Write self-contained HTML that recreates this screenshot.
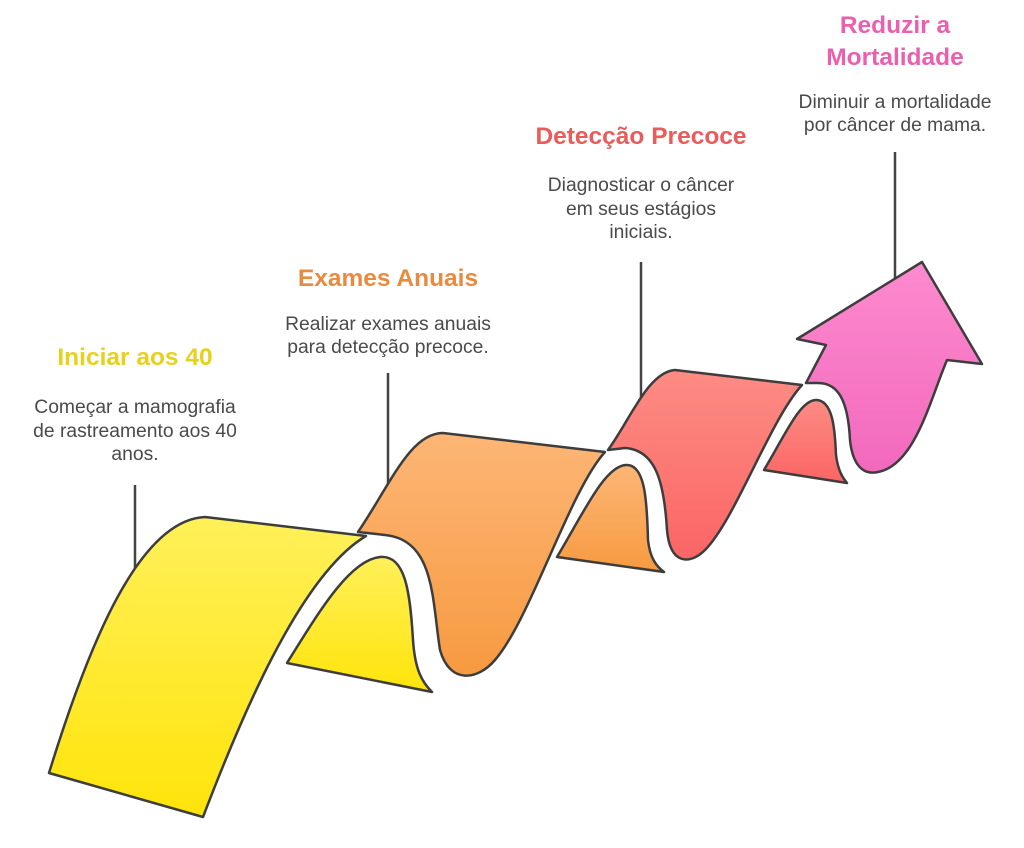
<!DOCTYPE html>
<html><head><meta charset="utf-8"><style>
html,body{margin:0;padding:0;background:#fff;}
svg{display:block;}
.t{font-family:"Liberation Sans",sans-serif;font-weight:bold;font-size:24.5px;text-anchor:middle;}
.b{font-family:"Liberation Sans",sans-serif;font-size:19.3px;fill:#4a4a4a;text-anchor:middle;}
.s{stroke:#3d3d3d;stroke-width:2.5;stroke-linejoin:round;}
</style></head><body>
<svg width="1024" height="848" viewBox="0 0 1024 848" xmlns="http://www.w3.org/2000/svg">
<defs>
<linearGradient id="gy" x1="0" y1="0" x2="0" y2="1"><stop offset="0" stop-color="#fff05a"/><stop offset="1" stop-color="#ffe40a"/></linearGradient>
<linearGradient id="go" x1="0" y1="0" x2="0" y2="1"><stop offset="0" stop-color="#fdb676"/><stop offset="1" stop-color="#f79a40"/></linearGradient>
<linearGradient id="gr" x1="0" y1="0" x2="0" y2="1"><stop offset="0" stop-color="#fd8c84"/><stop offset="1" stop-color="#fb6565"/></linearGradient>
<linearGradient id="gp" x1="0" y1="0" x2="0" y2="1"><stop offset="0" stop-color="#fd8ace"/><stop offset="1" stop-color="#f269bd"/></linearGradient>
</defs>
<g stroke="#444" stroke-width="2.5">
<line x1="135" y1="485" x2="135" y2="578"/>
<line x1="388" y1="373" x2="388" y2="487"/>
<line x1="641" y1="262" x2="641" y2="397"/>
<line x1="895" y1="152" x2="895" y2="278"/>
</g>
<path class="s" fill="url(#gy)" d="M287,663 C320,610 350,560 380,557 C405,555 410,590 413,640 C415,670 422,682 432,692 Z"/>
<path class="s" fill="url(#go)" d="M557,557 C585,510 605,466 626,465 C645,464 647,500 648,540 C650,558 656,566 664,572 Z"/>
<path class="s" fill="url(#gr)" d="M764,470 C785,435 800,400 816,400 C833,400 835,430 836,455 C838,470 842,477 847,483 Z"/>
<path class="s" fill="url(#gp)" d="M806,383 L826,345 L797,339 L922,262 L982,364 L947,360 C930,400 915,465 878,472 C860,476 852,460 850,440 C848,400 838,383 818,383 Z"/>
<path class="s" fill="url(#gr)" d="M608,450 C630,420 648,372 675,370 L802,385 C770,420 735,520 705,550 C690,565 670,565 667,530 C664,480 655,450 625,448 Z"/>
<path class="s" fill="url(#go)" d="M358,532 C390,485 410,433 443,433 L605,452 C570,490 530,620 495,660 C478,680 450,685 440,650 C432,600 435,540 385,535 Z"/>
<path class="s" fill="url(#gy)" d="M49,773 C90,640 140,520 205,517 L366,536 C300,575 240,720 203,817 Z"/>
<text class="t" x="135" y="365" fill="#e6d21c">Iniciar aos 40</text>
<text class="b" x="135" y="413">Começar a mamografia</text>
<text class="b" x="135" y="437">de rastreamento aos 40</text>
<text class="b" x="135" y="460">anos.</text>
<text class="t" x="388" y="286" fill="#ea8a3e">Exames Anuais</text>
<text class="b" x="388" y="330">Realizar exames anuais</text>
<text class="b" x="388" y="353">para detecção precoce.</text>
<text class="t" x="641" y="144" fill="#ea5b5b">Detecção Precoce</text>
<text class="b" x="641" y="191">Diagnosticar o câncer</text>
<text class="b" x="641" y="215">em seus estágios</text>
<text class="b" x="641" y="238">iniciais.</text>
<text class="t" x="895" y="33" fill="#ea5fae">Reduzir a</text>
<text class="t" x="895" y="65" fill="#ea5fae">Mortalidade</text>
<text class="b" x="895" y="108">Diminuir a mortalidade</text>
<text class="b" x="895" y="131">por câncer de mama.</text>
</svg>
</body></html>
